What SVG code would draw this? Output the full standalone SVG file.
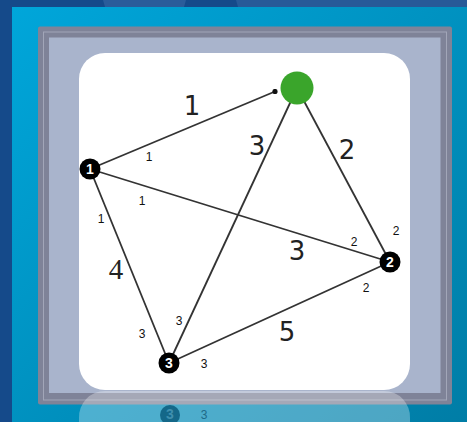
<svg xmlns="http://www.w3.org/2000/svg" width="467" height="422" viewBox="0 0 467 422">
  <defs>
    <linearGradient id="bgCyan" x1="0" y1="0" x2="1" y2="1">
      <stop offset="0" stop-color="#00a6da"/>
      <stop offset="1" stop-color="#007da6"/>
    </linearGradient>
    <marker id="dot" viewBox="0 0 6 6" refX="3" refY="3" markerWidth="6" markerHeight="6" markerUnits="userSpaceOnUse">
      <circle cx="3" cy="3" r="2.6" fill="#111"/>
    </marker>
    <style>
      .edge { stroke: #333; stroke-width: 1.8; fill: none; }
      .big { font-family: "DejaVu Sans", "Liberation Sans", sans-serif; font-size: 26px; fill: #222; text-anchor: middle; }
      .small { font-family: "Liberation Sans", Arial, sans-serif; font-size: 12px; fill: #111; text-anchor: middle; }
      .node { fill: #000; }
      .nlabel { font-family: "Liberation Sans", Arial, sans-serif; font-size: 14px; font-weight: bold; fill: #fff; text-anchor: middle; }
    </style>
  </defs>

  <!-- background -->
  <rect x="0" y="0" width="467" height="422" fill="#154a8a"/>
  <polygon points="103,0 186,0 184,7 105,7" fill="#2a5c9a"/>
  <polygon points="236,0 467,0 467,7 238,7" fill="#275a98"/>
  <rect x="12" y="7" width="455" height="415" fill="url(#bgCyan)"/>

  <!-- frame -->
  <rect x="38" y="26.5" width="414" height="378" rx="2" fill="#7f8398"/>
  <rect x="43.5" y="32" width="403" height="368" fill="none" stroke="#a2a6b8" stroke-width="1"/>
  <rect x="49" y="37.5" width="391.5" height="355.5" fill="#a9b4cc"/>

  <!-- white card -->
  <rect x="79" y="53" width="331" height="337" rx="26" fill="#ffffff"/>

  <!-- reflection -->
  <g id="reflection">
    <path d="M79,418 A26,26 0 0 1 105,391 H384 A26,26 0 0 1 410,418 V422 H79 Z" fill="#ffffff" opacity="0.3"/>
    <circle cx="170" cy="415" r="10" fill="#0a5c7c" opacity="0.85"/>
    <text x="170" y="419" class="nlabel" style="fill:#3f8fae">3</text>
    <text x="204" y="419" class="small" style="fill:#1d6a88">3</text>
  </g>

  <!-- connectors -->
  <g id="connectors">
    <line class="edge" x1="90" y1="169" x2="275" y2="91.5" marker-end="url(#dot)"/>
    <line class="edge" x1="297" y1="88" x2="169" y2="363"/>
    <line class="edge" x1="297" y1="88" x2="390" y2="262"/>
    <line class="edge" x1="90" y1="169" x2="390" y2="262"/>
    <line class="edge" x1="90" y1="169" x2="169" y2="363"/>
    <line class="edge" x1="169" y1="363" x2="390" y2="262"/>
  </g>

  <!-- edge weight labels -->
  <g id="labels">
    <text class="big" x="192" y="115">1</text>
    <text class="big" x="257" y="155">3</text>
    <text class="big" x="347" y="159">2</text>
    <text class="big" x="297" y="260">3</text>
    <text class="big" x="116" y="279" style="font-family:'Liberation Serif','Times New Roman',serif;font-size:29px">4</text>
    <text class="big" x="287" y="341">5</text>

    <text class="small" x="149" y="161">1</text>
    <text class="small" x="142" y="205">1</text>
    <text class="small" x="101" y="223">1</text>
    <text class="small" x="142" y="338">3</text>
    <text class="small" x="179" y="325">3</text>
    <text class="small" x="204" y="368">3</text>
    <text class="small" x="354" y="246">2</text>
    <text class="small" x="396" y="235">2</text>
    <text class="small" x="366" y="292">2</text>
  </g>

  <!-- nodes -->
  <g id="node-start">
    <circle cx="297" cy="88" r="16.5" fill="#3aa52b"/>
  </g>
  <g id="node-1">
    <circle class="node" cx="90" cy="169" r="10.5"/>
    <text class="nlabel" x="90" y="174">1</text>
  </g>
  <g id="node-2">
    <circle class="node" cx="390" cy="262" r="10.5"/>
    <text class="nlabel" x="390" y="267">2</text>
  </g>
  <g id="node-3">
    <circle class="node" cx="169" cy="363" r="10.5"/>
    <text class="nlabel" x="169" y="368">3</text>
  </g>
</svg>
